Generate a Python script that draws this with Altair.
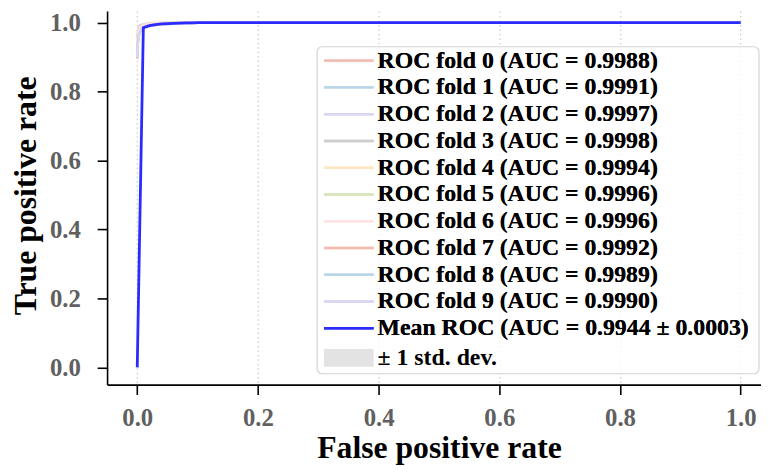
import altair as alt
import pandas as pd

# ---------------- data ----------------
fold_labels = [
    "ROC fold 0 (AUC = 0.9988)",
    "ROC fold 1 (AUC = 0.9991)",
    "ROC fold 2 (AUC = 0.9997)",
    "ROC fold 3 (AUC = 0.9998)",
    "ROC fold 4 (AUC = 0.9994)",
    "ROC fold 5 (AUC = 0.9996)",
    "ROC fold 6 (AUC = 0.9996)",
    "ROC fold 7 (AUC = 0.9992)",
    "ROC fold 8 (AUC = 0.9989)",
    "ROC fold 9 (AUC = 0.9990)",
]
mean_label = "Mean ROC (AUC = 0.9944 \u00b1 0.0003)"
std_label = "\u00b1 1 std. dev."

fold0_fpr = [0.0, 0.0008, 0.002, 0.004, 0.008, 0.014, 0.025, 0.045, 0.075, 0.12, 1.0]
fold0_tpr = [0.895, 0.935, 0.958, 0.972, 0.981, 0.987, 0.992, 0.995, 0.998, 1.0, 1.0]
fold1_fpr = [0.0, 0.001, 0.0025, 0.005, 0.009, 0.015, 0.028, 0.05, 0.08, 0.11, 1.0]
fold1_tpr = [0.905, 0.945, 0.965, 0.977, 0.985, 0.99, 0.994, 0.997, 0.999, 1.0, 1.0]
fold2_fpr = [0.0, 0.0005, 0.0015, 0.003, 0.006, 0.011, 0.02, 0.035, 0.06, 0.09, 1.0]
fold2_tpr = [0.92, 0.955, 0.972, 0.983, 0.99, 0.994, 0.997, 0.998, 0.999, 1.0, 1.0]
fold3_fpr = [0.0, 0.0005, 0.0012, 0.0025, 0.005, 0.009, 0.016, 0.03, 0.05, 0.08, 1.0]
fold3_tpr = [0.93, 0.96, 0.976, 0.986, 0.992, 0.995, 0.997, 0.999, 0.9995, 1.0, 1.0]
fold4_fpr = [0.0, 0.0008, 0.002, 0.004, 0.007, 0.012, 0.022, 0.04, 0.065, 0.1, 1.0]
fold4_tpr = [0.91, 0.948, 0.967, 0.979, 0.987, 0.991, 0.995, 0.997, 0.999, 1.0, 1.0]
fold5_fpr = [0.0, 0.0006, 0.0015, 0.003, 0.006, 0.01, 0.018, 0.032, 0.055, 0.085, 1.0]
fold5_tpr = [0.915, 0.952, 0.97, 0.982, 0.989, 0.993, 0.996, 0.998, 0.999, 1.0, 1.0]
fold6_fpr = [0.0, 0.0006, 0.0016, 0.0032, 0.0062, 0.011, 0.019, 0.034, 0.057, 0.09, 1.0]
fold6_tpr = [0.918, 0.953, 0.971, 0.982, 0.989, 0.993, 0.996, 0.998, 0.999, 1.0, 1.0]
fold7_fpr = [0.0, 0.001, 0.0022, 0.0045, 0.008, 0.014, 0.024, 0.042, 0.07, 0.105, 1.0]
fold7_tpr = [0.9, 0.94, 0.962, 0.975, 0.984, 0.989, 0.993, 0.996, 0.998, 1.0, 1.0]
fold8_fpr = [0.0, 0.0009, 0.0024, 0.0048, 0.0085, 0.015, 0.027, 0.047, 0.078, 0.115, 1.0]
fold8_tpr = [0.897, 0.938, 0.96, 0.974, 0.982, 0.988, 0.992, 0.995, 0.998, 1.0, 1.0]
fold9_fpr = [0.0, 0.0008, 0.0022, 0.0045, 0.0082, 0.014, 0.026, 0.046, 0.076, 0.11, 1.0]
fold9_tpr = [0.9, 0.94, 0.962, 0.975, 0.983, 0.989, 0.993, 0.996, 0.998, 1.0, 1.0]

mean_fpr = [0.0, 0.0101, 0.0202, 0.0303, 0.0404, 0.0505, 0.0606, 0.0707,
            0.0808, 0.0909, 0.101, 0.1111, 0.1212, 1.0]
mean_tpr = [0.0, 0.985, 0.991, 0.994, 0.996, 0.997, 0.998, 0.9985,
            0.999, 0.9993, 0.9996, 0.9998, 1.0, 1.0]
std_tpr = [0.0, 0.004, 0.003, 0.002, 0.0015, 0.0012, 0.001, 0.0008,
           0.0006, 0.0005, 0.0003, 0.0002, 0.0, 0.0]

x_ticks = [0.0, 0.2, 0.4, 0.6, 0.8, 1.0]
y_ticks = [0.0, 0.2, 0.4, 0.6, 0.8, 1.0]

# colours (matplotlib ggplot cycle at alpha 0.3 on white; mean blue at 0.8)
fold_colors = ["#f2bcb2", "#b9d6e9", "#dad6f0", "#cecece", "#fde6c4",
               "#d6e6bb", "#ffe2e3", "#f2bcb2", "#b9d6e9", "#dad6f0"]
mean_color = "#2b2bff"
std_color = "#e3e3e3"

# ---------------- tables ----------------
fold_fprs = [fold0_fpr, fold1_fpr, fold2_fpr, fold3_fpr, fold4_fpr,
             fold5_fpr, fold6_fpr, fold7_fpr, fold8_fpr, fold9_fpr]
fold_tprs = [fold0_tpr, fold1_tpr, fold2_tpr, fold3_tpr, fold4_tpr,
             fold5_tpr, fold6_tpr, fold7_tpr, fold8_tpr, fold9_tpr]
rows = []
for lab, fx, fy in zip(fold_labels, fold_fprs, fold_tprs):
    for i, (a, b) in enumerate(zip(fx, fy)):
        rows.append({"label": lab, "fpr": a, "tpr": b, "order": i})
folds_df = pd.DataFrame(rows)

mean_df = pd.DataFrame({"fpr": mean_fpr, "tpr": mean_tpr, "std": std_tpr})
mean_df["label"] = mean_label
mean_df["band"] = std_label
mean_df["order"] = range(len(mean_df))
mean_df["upper"] = (mean_df["tpr"] + mean_df["std"]).clip(upper=1.0)
mean_df["lower"] = (mean_df["tpr"] - mean_df["std"]).clip(lower=0.0)

domain = fold_labels + [mean_label]
crange = fold_colors + [mean_color]

FONT = "Liberation Serif"

xscale = alt.Scale(domain=[-0.05, 1.0337], nice=False, zero=False)
yscale = alt.Scale(domain=[-0.05, 1.0333], nice=False, zero=False)

xaxis = alt.Axis(values=x_ticks, format=".1f", title="False positive rate",
                 grid=True, gridDash=[1.5, 3], gridColor="#bdbdbd", gridWidth=1,
                 titleX=335, titleY=74, titleBaseline="alphabetic", titleAlign="center")
yaxis = alt.Axis(values=y_ticks, format=".1f", title="True positive rate",
                 grid=False, titleX=-82, titleY=186, titleAngle=270,
                 titleAlign="center", titleBaseline="middle")

# symbols: nominal size 20px, drawn 50px wide (path spans -2.5..2.5 units)
line_legend = alt.Legend(
    title=None, orient="none", legendX=232, legendY=38,
    symbolType="M-2.5,0L2.5,0", symbolSize=400, symbolStrokeWidth=2.5,
    labelFont=FONT, labelFontSize=24, labelFontWeight="bold", labelColor="black",
    labelLimit=600, labelOffset=17, rowPadding=3, padding=0,
)
band_legend = alt.Legend(
    title=None, orient="none", legendX=232, legendY=338,
    symbolType="M-2.5,-0.9L2.5,-0.9L2.5,0.9L-2.5,0.9Z", symbolSize=400,
    symbolStrokeWidth=0, symbolOpacity=1,
    labelFont=FONT, labelFontSize=24, labelFontWeight="bold", labelColor="black",
    labelLimit=600, labelOffset=17, padding=0,
)
color = alt.Color("label:N", scale=alt.Scale(domain=domain, range=crange), legend=line_legend)

# legend frame (decoration, pixel placed)
frame = alt.Chart(pd.DataFrame({"k": [0]})).mark_rect(
    fill="white", fillOpacity=0.8, stroke="#d4d4d4", strokeWidth=1.2, cornerRadius=5
).encode(
    x=alt.value(212), x2=alt.value(658), y=alt.value(36), y2=alt.value(366)
)

band = alt.Chart(mean_df).mark_area().encode(
    x=alt.X("fpr:Q", scale=xscale, axis=xaxis),
    y=alt.Y("lower:Q", scale=yscale, axis=yaxis),
    y2="upper:Q",
    fill=alt.Fill("band:N", scale=alt.Scale(domain=[std_label], range=[std_color]),
                  legend=band_legend),
    order="order:Q",
)

folds = alt.Chart(folds_df).mark_line(strokeWidth=2.4).encode(
    x=alt.X("fpr:Q", scale=xscale, axis=xaxis),
    y=alt.Y("tpr:Q", scale=yscale, axis=yaxis),
    color=color,
    order="order:Q",
)

mean = alt.Chart(mean_df).mark_line(strokeWidth=2.8).encode(
    x=alt.X("fpr:Q", scale=xscale, axis=xaxis),
    y=alt.Y("tpr:Q", scale=yscale, axis=yaxis),
    color=color,
    order="order:Q",
)

chart = alt.layer(band, folds, mean, frame).properties(
    width=660, height=377,
    autosize=alt.AutoSizeParams(type="none"),
    padding={"left": 100, "top": 1, "right": 0, "bottom": 79},
).resolve_legend(color="independent", fill="independent").configure_view(
    strokeWidth=0
).configure_axis(
    labelFont=FONT, labelFontSize=25, labelFontWeight="bold", labelColor="#606060",
    titleFont=FONT, titleFontSize=32, titleFontWeight="bold", titleColor="black",
    domainColor="black", domainWidth=1.6, tickColor="black", tickWidth=1.6,
    tickSize=10,
).configure_axisY(labelPadding=17).configure_axisX(labelPadding=11)

chart.save("out.html", embed_options={"renderer": "svg", "actions": False})
